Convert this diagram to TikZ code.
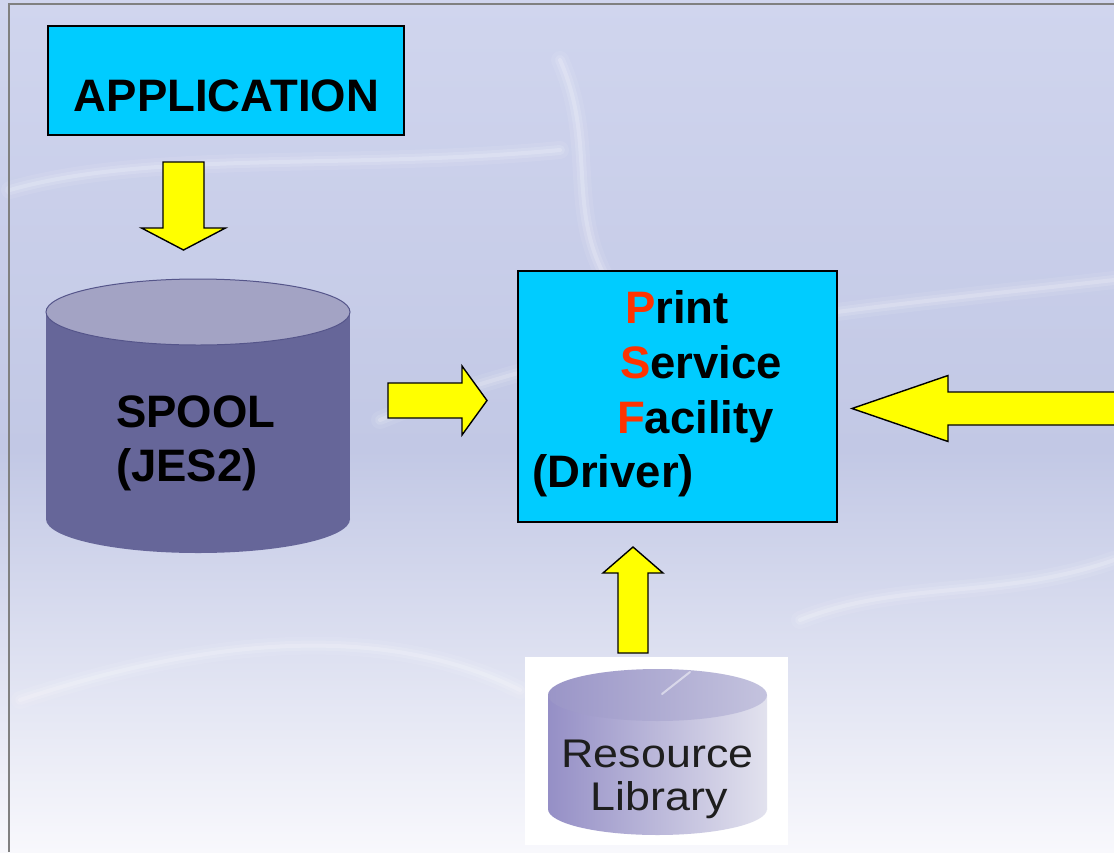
\documentclass[tikz,border=0pt]{standalone}
\usepackage{fontspec}
\setmainfont{Liberation Sans}
\usetikzlibrary{calc}
\definecolor{boxcyan}{HTML}{00CCFF}
\definecolor{arrowyellow}{HTML}{FFFF00}
\definecolor{spoolbody}{HTML}{666699}
\definecolor{spooltop}{HTML}{A3A3C4}
\definecolor{spoolline}{HTML}{55558A}
\definecolor{psfred}{HTML}{FF3300}
\definecolor{bgtop}{HTML}{D0D5EE}
\definecolor{bgmid}{HTML}{C2C8E5}
\definecolor{bgbot}{HTML}{F8F8FC}
\definecolor{framegray}{HTML}{808080}
\definecolor{libleft}{HTML}{958FC6}
\definecolor{libright}{HTML}{E2E2EE}
\definecolor{libtopl}{HTML}{9A95C7}
\definecolor{libtopr}{HTML}{C4C3DE}
\definecolor{libtext}{HTML}{1E1E1E}
\newcommand\bigfont{\fontsize{45.5}{54}\selectfont\bfseries}
\newcommand\libfont{\fontsize{40}{48}\selectfont}
\newcommand\blockarrow[5]{%
  \coordinate (ba-h) at ($(#2)!#5!(#1)$);
  \draw[blockarrow] ($(#1)!#3!90:(#2)$) -- ($(ba-h)!#3!90:(#2)$) -- ($(ba-h)!#4!90:(#2)$)
    -- (#2) -- ($(ba-h)!#4!-90:(#2)$) -- ($(ba-h)!#3!-90:(#2)$) -- ($(#1)!#3!-90:(#2)$) -- cycle;}
\newcommand\softwisp[1]{%
  \draw[wisp, line width=18pt, opacity=0.08] #1;
  \draw[wisp, line width=10pt, opacity=0.12] #1;
  \draw[wisp, line width=4pt, opacity=0.18] #1;}
\tikzset{
  procbox/.style={draw=black, line width=1.5pt, fill=boxcyan, inner sep=0pt},
  blockarrow/.style={draw=black, line width=1.4pt, fill=arrowyellow, line join=miter},
  label/.style={inner sep=0pt, font=\bigfont, text=black},
  wisp/.style={white, line cap=round}
}
\begin{document}
\begin{tikzpicture}[x=1pt, y=-1pt]
\useasboundingbox (0,0) rectangle (1114,852);
% background
\shade[top color=bgtop, bottom color=bgmid] (0,0) rectangle (1114,450);
\shade[top color=bgmid, bottom color=bgbot] (0,450) rectangle (1114,852);
% soft wisps
\softwisp{(10,190) .. controls (150,150) and (350,170) .. (560,150)}
\softwisp{(380,420) .. controls (600,330) and (850,310) .. (1114,280)}
\softwisp{(560,60) .. controls (600,150) and (560,220) .. (620,300)}
\softwisp{(20,700) .. controls (200,640) and (380,620) .. (520,690)}
\softwisp{(800,620) .. controls (900,580) and (1000,600) .. (1114,560)}
% frame
\draw[framegray, line width=2pt] (9,852) -- (9,4) -- (1114,4);
% APPLICATION
\node[procbox, minimum width=356pt, minimum height=109pt] (app) at (226,80.5) {};
\node[label, anchor=base] (apptext) at (226.5,111) {APPLICATION};
% SPOOL cylinder
\fill[spoolbody] (46,312) rectangle (350,519);
\fill[spoolbody] (198,519) ellipse [x radius=152, y radius=34];
\filldraw[fill=spooltop, draw=spoolline, line width=1pt] (198,312) ellipse [x radius=152, y radius=33];
\node[inner sep=0pt, minimum width=304pt, minimum height=274pt] (spool) at (198,416) {};
\node[label, anchor=base west] (spool1) at (116,427) {SPOOL};
\node[label, anchor=base west] (spool2) at (116,481) {(JES2)};
% PSF box
\node[procbox, minimum width=319pt, minimum height=251pt] (psf) at (677.5,396.5) {};
\node[label, anchor=base west] (psf1) at (625,323) {\textcolor{psfred}{P}rint};
\node[label, anchor=base west] (psf2) at (620,378) {\textcolor{psfred}{S}ervice};
\node[label, anchor=base west] (psf3) at (617,433) {\textcolor{psfred}{F}acility};
\node[label, anchor=base west] (psf4) at (532,487) {(Driver)};
% Resource Library
\node[fill=white, inner sep=0pt, minimum width=263pt, minimum height=188pt] (reslib) at (656.5,751) {};
\shade[left color=libleft, right color=libright] (548,695) rectangle (767,809);
\shade[left color=libleft, right color=libright] (657.5,809) ellipse [x radius=109.5, y radius=26];
\shade[left color=libtopl, right color=libtopr] (657.5,695) ellipse [x radius=109.5, y radius=26];
\draw[white, opacity=0.5, line width=2pt, line cap=round] (662,694) -- (690,672);
\node[inner sep=0pt, anchor=base, font=\libfont, text=libtext] (lib1) at (657.5,767) {\scalebox{1.12}[1]{Resource}};
\node[inner sep=0pt, anchor=base, font=\libfont, text=libtext] (lib2) at (659,810) {\scalebox{1.12}[1]{Library}};
% arrows
\coordinate (dn-s) at (183.5,162); \coordinate (dn-e) at (183.5,250);
\coordinate (rt-s) at (388,400.5); \coordinate (rt-e) at (487,400.5);
\coordinate (lf-s) at (1125,408.5); \coordinate (lf-e) at (852,408.5);
\coordinate (up-s) at (633,653); \coordinate (up-e) at (633,547);
\blockarrow{dn-s}{dn-e}{20.5pt}{42pt}{22pt}
\blockarrow{rt-s}{rt-e}{17.5pt}{34.5pt}{25pt}
\blockarrow{lf-s}{lf-e}{16.5pt}{33pt}{96pt}
\blockarrow{up-s}{up-e}{15pt}{30pt}{26pt}
\end{tikzpicture}
\end{document}
